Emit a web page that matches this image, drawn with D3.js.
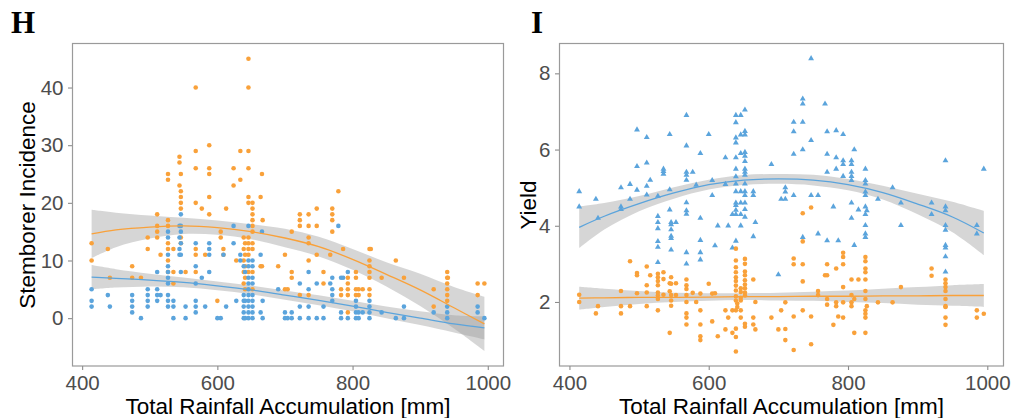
<!DOCTYPE html>
<html><head><meta charset="utf-8">
<script src="https://cdn.jsdelivr.net/npm/d3@7"></script>
<style>
body{margin:0;background:#fff;}
svg{display:block;font-family:"Liberation Sans",Arial,sans-serif;}
</style>
</head><body>
<svg id="c" width="1013" height="418"></svg>
<script>
// ---------- tick labels ----------
const xTicks = [400, 600, 800, 1000];
const hYTicks = [0, 10, 20, 30, 40];
const iYTicks = [2, 4, 6, 8];
const xTitle = "Total Rainfall Accumulation [mm]";

// ---------- Panel H : Stemborer incidence, [rainfall, [values]] ----------
const hOrange = [
 [414,[13,10]],[438,[12]],[441,[7]],[474,[9,7]],[487,[7]],[497,[14,12]],
 [511,[18,16,15,14]],[516,[11]],[527,[25,24,17,16,13,12,10,8]],[535,[12,8,6]],
 [544,[28,27,23]],[546,[25,22,21,20,19,14,13]],[553,[8]],[568,[40,29,26,20,12,11,8]],
 [577,[19]],[582,[11]],[588,[30,26,25,21,18]],[600,[3]],[605,[15,14]],[609,[12,11]],
 [613,[19]],[624,[26,23]],[628,[10]],[634,[29,24]],[639,[14,12,10,8,6]],[641,[13,11,9,7,5]],
 [646,[45,40,29,26,21,20,14,13,12,11,8]],[652,[20,19,18,17,16,15,13,12,8,5]],
 [664,[21,9]],[666,[25,9]],[667,[17]],[690,[9]],[700,[11,5]],[704,[5]],[710,[15,8,7]],
 [722,[18,17,16,4]],[735,[18,16,14,13,10,4]],[747,[19,16,11]],[757,[8,6]],[767,[11]],
 [770,[19,18,17,15]],[779,[22]],[783,[5,4]],[786,[12]],[793,[7,6,5,4,1]],[805,[8,7,5,4]],
 [809,[5,4]],[815,[5]],[825,[12,10,9,8,7,5,4]],[827,[12]],[843,[7]],[864,[10]],[876,[7]],
 [920,[5,2]],[940,[8,7,6,5,4,3]],[941,[7]],[985,[6,4]],[995,[6]]
];
const hBlue = [
 [414,[5,3,2]],[438,[4]],[441,[2]],[474,[4,3,2,1]],[487,[0]],[497,[5,4,3,2]],
 [511,[8,5,4,3]],[516,[4]],[527,[15,14,11,9,8,7,6,4,3,2]],[535,[3,2,0]],
 [544,[16,14,12,11]],[546,[18,16,15,13,11,8]],[553,[2,0]],[568,[13,9,6,3,2,1]],
 [577,[7]],[582,[2]],[588,[13,12,11,8]],[600,[0]],[605,[0]],[609,[11]],[613,[2]],
 [624,[16,13]],[628,[3]],[634,[11,10]],[639,[9,4,3,2,1,0]],[641,[8,3,0]],
 [646,[16,10,9,7,6,5,4,3,2,1,0]],[652,[10,9,7,6,4,3,2,1,0]],[664,[11,1]],[666,[15]],
 [667,[3,0]],[690,[5]],[700,[1,0]],[704,[0]],[710,[1,0]],[722,[6,2,0]],[735,[8,5,2,0]],
 [747,[6,0]],[757,[2,0]],[767,[6]],[770,[7,5,4,3]],[779,[16]],[783,[7,1,0]],[786,[7]],
 [793,[8,0]],[805,[3,2,1,0]],[809,[1,0]],[815,[1]],[825,[3,2,1,0]],[843,[1]],[864,[0]],
 [876,[2,0]],[920,[1]],[940,[2,1,0]],[985,[2,1]],[995,[0]]
];

// ---------- Panel I : Yield ----------
const iBlue = [
 [414,[4.90,4.50]],[438,[4.70]],[441,[4.20]],[474,[5.00,4.50,4.43]],[487,[5.09,4.70]],
 [497,[6.52,5.56,4.94]],[511,[6.32,5.65,5.04,4.81]],[516,[5.20]],
 [527,[4.78,4.25,4.09,3.93,3.59,3.44,3.04]],[535,[5.43,5.49,5.36]],[544,[6.40,4.95,4.42]],
 [546,[4.09,4.03,3.90,3.73,3.67,3.37]],[553,[4.09]],
 [568,[6.90,6.10,5.41,5.33,5.20,4.61,4.40,4.31,3.30,3.00]],[577,[5.41]],[582,[5.07]],
 [588,[5.90,4.20,3.62,3.30,3.11]],[600,[6.40]],[605,[5.19,4.80]],[609,[3.48]],[613,[4.00]],
 [624,[5.79,5.09]],[628,[4.00]],[634,[4.30,3.42]],
 [639,[6.90,6.71,6.31,6.18,5.79,5.49,5.29,5.10,4.90,4.60,4.54,4.41,4.30,3.60]],
 [646,[6.90,6.39,5.90,4.90,4.60,4.30,4.00]],
 [652,[7.04,6.48,6.39,5.93,5.83,5.69,5.49,5.41,5.33,5.10,4.90,4.80,4.60,4.43,4.23]],
 [664,[4.90,4.80,3.72]],[667,[4.09]],[690,[5.61]],[700,[2.72]],[704,[4.70]],
 [710,[5.00,4.89,4.70]],[722,[6.72,6.47,5.88,4.80]],[735,[7.33,7.20,6.72,6.00,3.70]],
 [747,[8.39,6.24,4.80]],[757,[4.80,3.79]],[767,[7.20]],[770,[6.47,5.88,5.41,3.61]],
 [779,[4.50]],[783,[6.50,5.79,5.49]],[786,[3.61]],[793,[6.40,5.71,5.61,5.30]],
 [805,[5.71,5.61,5.41,5.30,5.19,4.60,4.20]],[809,[6.00,3.49]],[815,[4.42]],
 [825,[5.49,5.19,5.10,4.89,4.80,4.50,4.30,4.01,3.79,3.70]],[827,[4.40]],[843,[4.70]],
 [864,[5.00]],[876,[4.60,4.01]],[920,[4.60,4.30]],
 [940,[5.71,4.50,4.40,4.01,3.89,3.49,3.42,3.19,2.79]],[985,[4.01,3.79]],[995,[5.49]]
];
const iOrange = [
 [414,[2.19,2.00]],[438,[1.70]],[441,[1.89]],[474,[2.29,1.89,1.70]],[487,[3.07,1.89]],
 [497,[2.76,2.70,2.23]],[511,[2.93,2.44,2.25,1.89]],[516,[2.70]],
 [527,[2.74,2.65,2.55,2.44,2.25,2.17,2.08,1.78]],[535,[2.78,2.60,2.19]],[544,[2.49,2.28,1.19]],
 [546,[2.65,2.48,2.18,2.04,1.90]],[553,[2.49,2.18]],
 [568,[2.59,2.44,2.34,2.18,2.00,1.70,1.59,1.41]],[577,[2.24]],[582,[2.00]],
 [588,[2.22,1.78,1.41,1.10,1.00]],[600,[2.48]],[605,[2.22,1.49]],[609,[2.23]],[613,[1.10]],
 [624,[1.78,1.28]],[628,[1.59]],[634,[1.78,1.19]],
 [639,[3.40,3.09,2.91,2.78,2.65,2.55,2.43,2.30,2.15,2.04,1.78,1.30,1.08,0.70]],[641,[1.96,1.87]],
 [646,[2.36,2.26,2.11,2.04,1.78,1.59]],
 [652,[3.13,3.00,2.80,2.70,2.57,2.46,2.36,2.25,2.17,1.43,1.35]],
 [664,[2.59,1.59,1.41]],[667,[2.00,1.28]],[690,[1.59]],[700,[1.28]],[704,[1.78]],
 [710,[1.99,1.29,1.00]],[722,[3.14,2.99,1.62,0.74]],[735,[4.33,3.59,2.99,2.54,1.78]],
 [747,[4.48,1.62,0.89]],[757,[2.29,2.18]],[767,[2.70]],[770,[2.99,2.70,2.08,1.93]],
 [779,[1.40]],[783,[2.88,1.99,1.89]],[786,[1.62]],[793,[3.29,3.18,2.99,2.39,1.99,1.59]],
 [805,[2.59,2.18,1.99,1.89]],[809,[2.08,1.19]],[815,[2.59]],
 [825,[3.18,3.07,2.88,2.78,2.59,2.29,2.08,1.78,1.69,1.59,1.19]],[827,[1.89]],[843,[1.99]],
 [864,[1.99]],[876,[2.39]],[920,[2.88,2.69]],
 [940,[2.59,2.49,2.39,2.29,2.08,1.89,1.87,1.59,1.40]],[985,[1.78,1.59]],[995,[1.69]]
];

// ---------- fitted smooths (fit value and half-width of confidence band) ----------
const smoothX   = [414, 450, 500, 550, 600, 650, 700, 750, 800, 850, 900, 950, 995];
const hOrangeFit = [14.6, 15.3, 15.8, 16.0, 15.7, 15.0, 13.9, 12.4, 10.2, 7.6, 4.9, 1.8, -1.0];
const hOrangeCI  = [4.2, 3.0, 2.0, 1.4, 1.25, 1.3, 1.6, 1.7, 1.8, 2.1, 2.8, 3.6, 4.7];
const hBlueFit   = [7.1, 6.9, 6.6, 6.2, 5.6, 4.9, 4.0, 3.1, 2.1, 1.0, 0.0, -1.0, -1.7];
const hBlueCI    = [2.1, 1.6, 1.1, 0.85, 0.75, 0.75, 0.8, 0.85, 0.9, 1.0, 1.2, 1.5, 2.0];
const iBlueFit   = [3.96, 4.25, 4.58, 4.86, 5.08, 5.20, 5.23, 5.20, 5.08, 4.87, 4.57, 4.23, 3.81];
const iBlueCI    = [0.55, 0.35, 0.2, 0.15, 0.13, 0.13, 0.13, 0.14, 0.15, 0.18, 0.27, 0.4, 0.58];
const iOrangeFit = [2.10, 2.11, 2.12, 2.12, 2.13, 2.14, 2.14, 2.15, 2.15, 2.16, 2.16, 2.17, 2.17];
const iOrangeCI  = [0.30, 0.24, 0.17, 0.12, 0.10, 0.09, 0.10, 0.12, 0.15, 0.19, 0.23, 0.27, 0.30];

const ORANGE = "#F9A13A", BLUE = "#5BA4DC";
const svg = d3.select("#c");

function flat(groups){ return groups.flatMap(([x, ys]) => ys.map(y => ({x, y}))); }

function drawPanel(cfg){
  const x = d3.scaleLinear().domain([385, 1024]).range([cfg.left, cfg.right]);
  const y = d3.scaleLinear().domain(cfg.yDomain).range([366, 44]);
  const g = svg.append("g");

  // ribbons
  cfg.smooths.forEach(s => {
    const d = smoothX.map((xv, i) => ({x: xv, f: s.fit[i], c: s.ci[i]}));
    g.append("path").datum(d)
      .attr("d", d3.area().curve(d3.curveCatmullRom)
        .x(p => x(p.x)).y0(p => y(p.f - p.c)).y1(p => y(p.f + p.c)))
      .attr("fill", "#999999").attr("fill-opacity", 0.4);
  });
  // points
  cfg.points.forEach(p => {
    const data = flat(p.data);
    if (p.shape === "tri") {
      g.selectAll(null).data(data).enter().append("path")
        .attr("d", d3.symbol(d3.symbolTriangle, 15)())
        .attr("transform", d => `translate(${x(d.x)},${y(d.y)})`)
        .attr("fill", p.color);
    } else {
      g.selectAll(null).data(data).enter().append("circle")
        .attr("cx", d => x(d.x)).attr("cy", d => y(d.y)).attr("r", 2.3)
        .attr("fill", p.color);
    }
  });
  // fit lines
  cfg.smooths.forEach(s => {
    const d = smoothX.map((xv, i) => ({x: xv, f: s.fit[i]}));
    g.append("path").datum(d)
      .attr("d", d3.line().curve(d3.curveCatmullRom).x(p => x(p.x)).y(p => y(p.f)))
      .attr("fill", "none").attr("stroke", s.color).attr("stroke-width", 1.3);
  });
  // border
  g.append("rect").attr("x", cfg.left + 0.5).attr("y", 43.5)
    .attr("width", cfg.right - cfg.left - 1).attr("height", 366 - 43.5)
    .attr("fill", "none").attr("stroke", "#9a9a9a").attr("stroke-width", 1.2);

  // axes
  const ax = g.append("g").attr("transform", "translate(0,366)")
    .call(d3.axisBottom(x).tickValues(xTicks).tickSize(4).tickPadding(5.5).tickFormat(d3.format("d")));
  const ay = g.append("g").attr("transform", `translate(${cfg.left},0)`)
    .call(d3.axisLeft(y).tickValues(cfg.yTicks).tickSize(4).tickPadding(4.5).tickFormat(d3.format("d")));
  [ax, ay].forEach(a => {
    a.select(".domain").remove();
    a.selectAll(".tick line").attr("stroke", "#8c8c8c").attr("stroke-width", 1.1);
    a.selectAll(".tick text").attr("fill", "#4d4d4d").style("font-size", "20.5px")
      .style("font-family", '"Liberation Sans",Arial,sans-serif');
  });

  // titles
  g.append("text").attr("x", (cfg.left + cfg.right) / 2).attr("y", 414)
    .attr("text-anchor", "middle").style("font-size", "22.5px").attr("fill", "#000").text(xTitle);
  g.append("text").attr("transform", `translate(${cfg.yTitleX},205) rotate(-90)`)
    .attr("text-anchor", "middle").style("font-size", "22.5px").attr("fill", "#000").text(cfg.yTitle);
  g.append("text").attr("x", cfg.letterX).attr("y", 32.5)
    .style("font-family", '"Liberation Serif","Times New Roman",serif')
    .style("font-weight", "bold").style("font-size", "31px").attr("fill", "#000").text(cfg.letter);
}

drawPanel({
  left: 72, right: 504, yDomain: [-8.3, 47.55], yTicks: hYTicks,
  yTitle: "Stemborer Incidence", yTitleX: 35, letter: "H", letterX: 11,
  points: [{data: hOrange, color: ORANGE, shape: "circle"}, {data: hBlue, color: BLUE, shape: "circle"}],
  smooths: [{fit: hOrangeFit, ci: hOrangeCI, color: ORANGE}, {fit: hBlueFit, ci: hBlueCI, color: BLUE}]
});
drawPanel({
  left: 559, right: 1004, yDomain: [0.32, 8.77], yTicks: iYTicks,
  yTitle: "Yield", yTitleX: 536, letter: "I", letterX: 531,
  points: [{data: iBlue, color: BLUE, shape: "tri"}, {data: iOrange, color: ORANGE, shape: "circle"}],
  smooths: [{fit: iBlueFit, ci: iBlueCI, color: BLUE}, {fit: iOrangeFit, ci: iOrangeCI, color: ORANGE}]
});
</script>
</body></html>
